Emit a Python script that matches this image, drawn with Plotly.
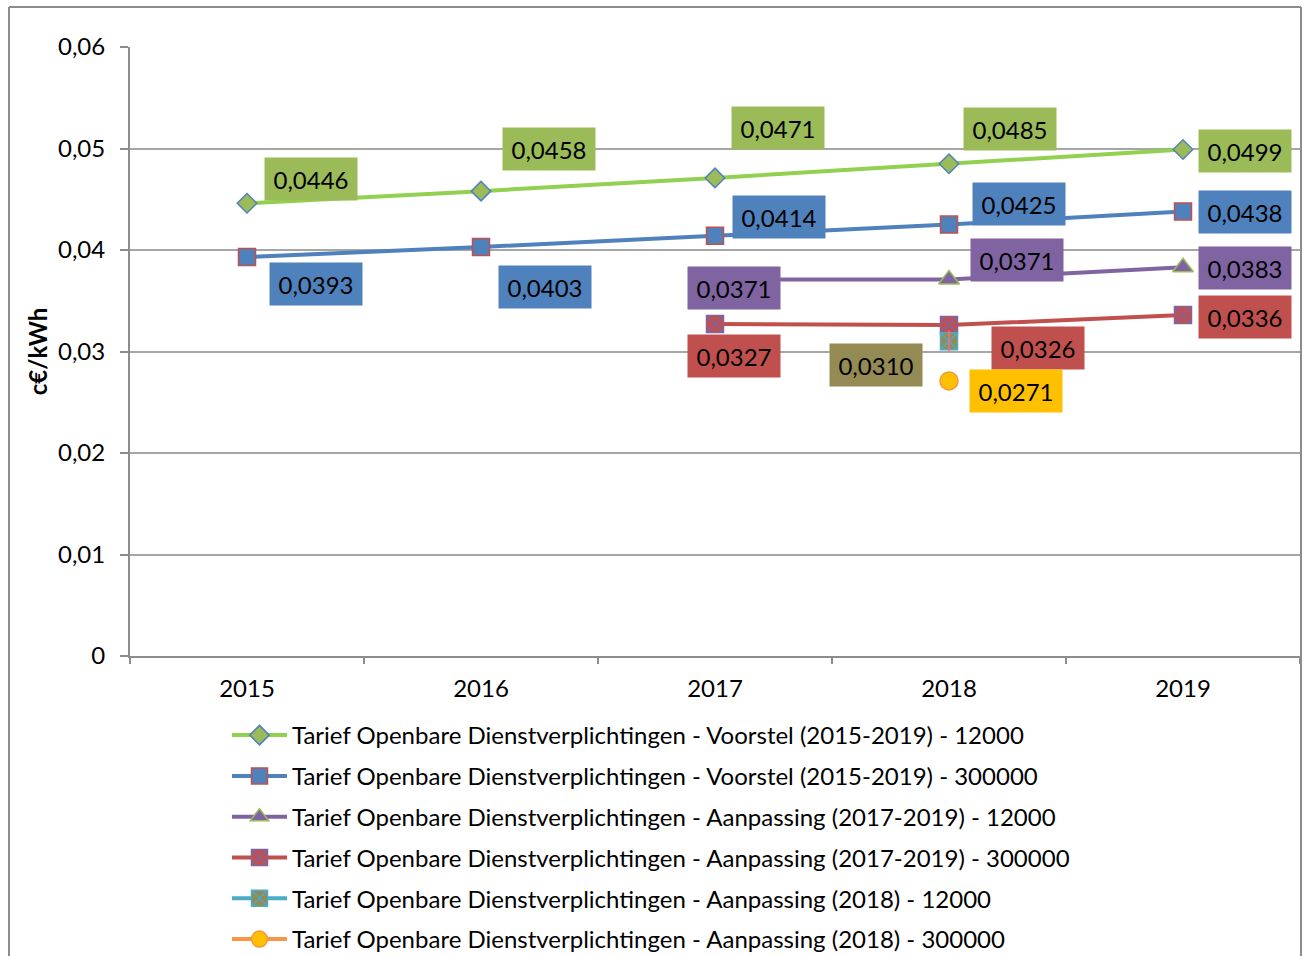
import plotly.graph_objects as go

years = ["2015", "2016", "2017", "2018", "2019"]
voorstel_12000 = [0.0446, 0.0458, 0.0471, 0.0485, 0.0499]
voorstel_300000 = [0.0393, 0.0403, 0.0414, 0.0425, 0.0438]
aanp1719_12000 = [None, None, 0.0371, 0.0371, 0.0383]
aanp1719_300000 = [None, None, 0.0327, 0.0326, 0.0336]
aanp18_12000 = [None, None, None, 0.0310, None]
aanp18_300000 = [None, None, None, 0.0271, None]

names = [
    "Tarief Openbare Dienstverplichtingen - Voorstel (2015-2019) - 12000",
    "Tarief Openbare Dienstverplichtingen - Voorstel (2015-2019) - 300000",
    "Tarief Openbare Dienstverplichtingen - Aanpassing (2017-2019) - 12000",
    "Tarief Openbare Dienstverplichtingen - Aanpassing (2017-2019) - 300000",
    "Tarief Openbare Dienstverplichtingen - Aanpassing (2018) - 12000",
    "Tarief Openbare Dienstverplichtingen - Aanpassing (2018) - 300000",
]
series = [voorstel_12000, voorstel_300000, aanp1719_12000, aanp1719_300000, aanp18_12000, aanp18_300000]

y_ticks = [0, 0.01, 0.02, 0.03, 0.04, 0.05, 0.06]
y_ticktext = ["0", "0,01", "0,02", "0,03", "0,04", "0,05", "0,06"]

xpos = list(range(len(years)))
boundaries = [i - 0.5 for i in range(len(years) + 1)]

# styling
line_colors = ["#92D050", "#4F81BD", "#8064A2", "#C0504D", "#4BACC6", "#F79646"]
marker_fill = ["#9BBB59", "#4F81BD", "#8064A2", "#C0504D", "#948A54", "#FFC000"]
marker_line = ["#4F81BD", "#C0504D", "#9BBB59", "#8064A2", "#4BACC6", "#F79646"]
symbols = ["diamond", "square", "triangle-up", "square-x", "square-x", "circle"]
sizes = [15, 17, 18, 17, 17, 18]
label_bg = ["#9BBB59", "#4F81BD", "#8064A2", "#C0504D", "#948A54", "#FFC000"]
# label pixel offsets per series (dx, dy) per point
offsets = [
    [(64, 24), (68, 42), (63, 50), (61, 35), (62, -1)],
    [(69, -27), (64, -40), (64, 19), (70, 21), (62, -1)],
    [None, None, (19, -9), (68, 19), (62, -1)],
    [None, None, (19, -32), (89, -23), (62, -2)],
    [None, None, None, (-73, -24), None],
    [None, None, None, (67, -10), None],
]

FONT = "Lato"
FS = 24
fig = go.Figure()
for i, (nm, vals) in enumerate(zip(names, series)):
    fig.add_trace(go.Scatter(
        x=xpos, y=vals, name=nm, mode="lines+markers",
        line=dict(color=line_colors[i], width=4),
        marker=dict(symbol=symbols[i], size=sizes[i], color=marker_fill[i],
                    line=dict(color=marker_line[i], width=1.5)),
        legendgroup=str(i),
        connectgaps=False,
    ))

# vertical stroke for asterisk marker
fig.add_trace(go.Scatter(
    x=xpos, y=aanp18_12000, mode="markers", showlegend=False, hoverinfo="skip",
    marker=dict(symbol="line-ns-open", size=15, line=dict(color="#4BACC6", width=1.5)),
))

annotations = []
for i, vals in enumerate(series):
    for j, v in enumerate(vals):
        if v is None:
            continue
        dx, dy = offsets[i][j]
        annotations.append(dict(
            x=xpos[j], y=v, xref="x", yref="y",
            text=f"{v:.4f}".replace(".", ","), showarrow=False,
            xshift=dx, yshift=dy, width=90, height=40,
            bgcolor=label_bg[i], font=dict(family=FONT, size=FS, color="black"),
        ))

# pixel->paper helpers for outer border
L, R, T, B = 130, 8, 47, 300
W, H = 1308, 956
pw, ph = W - L - R, H - T - B
def px(p):
    return (p - L) / pw
def py(p):
    return (H - B - p) / ph

fig.add_shape(type="line", xref="paper", yref="paper",
              x0=px(9), x1=px(1301), y0=py(7), y1=py(7),
              line=dict(color="#8C8C8C", width=2))
fig.add_shape(type="line", xref="paper", yref="paper",
              x0=px(9), x1=px(9), y0=py(7), y1=py(970),
              line=dict(color="#8C8C8C", width=2))
fig.add_shape(type="line", xref="paper", yref="paper",
              x0=px(1301), x1=px(1301), y0=py(7), y1=py(970),
              line=dict(color="#8C8C8C", width=2))

fig.update_layout(
    width=W, height=H,
    margin=dict(l=L, r=R, t=T, b=B, autoexpand=False),
    paper_bgcolor="white", plot_bgcolor="white",
    font=dict(family=FONT, size=FS, color="black"),
    annotations=annotations,
    showlegend=True,
    legend=dict(x=px(227), y=py(713), xanchor="left", yanchor="top",
                font=dict(family=FONT, size=FS, color="black"),
                tracegroupgap=6.6, itemwidth=55, bgcolor="rgba(0,0,0,0)"),
    xaxis=dict(range=[-0.5, 4.5], tickvals=xpos, ticktext=years, showgrid=False,
               showline=True, linecolor="#8C8C8C", linewidth=2,
               ticks="", zeroline=False, ticklabelstandoff=10,
               minor=dict(tickvals=boundaries, ticks="outside", ticklen=6,
                          tickcolor="#8C8C8C", tickwidth=2, showgrid=False),
               tickfont=dict(size=FS, family=FONT)),
    yaxis=dict(range=[0, 0.06], tickvals=y_ticks, ticktext=y_ticktext,
               showgrid=True, gridcolor="#A6A6A6", gridwidth=2,
               showline=True, linecolor="#8C8C8C", linewidth=2,
               ticks="outside", ticklen=8, tickcolor="#8C8C8C", tickwidth=2,
               ticklabelstandoff=10,
               tickfont=dict(size=FS, family=FONT), zeroline=False,
               title=dict(text="<b>c€/kWh</b>", font=dict(size=FS, family=FONT), standoff=4)),
)

fig.write_html("out.html", post_script="document.body.style.margin='0px';",
               config={"displayModeBar": False})
